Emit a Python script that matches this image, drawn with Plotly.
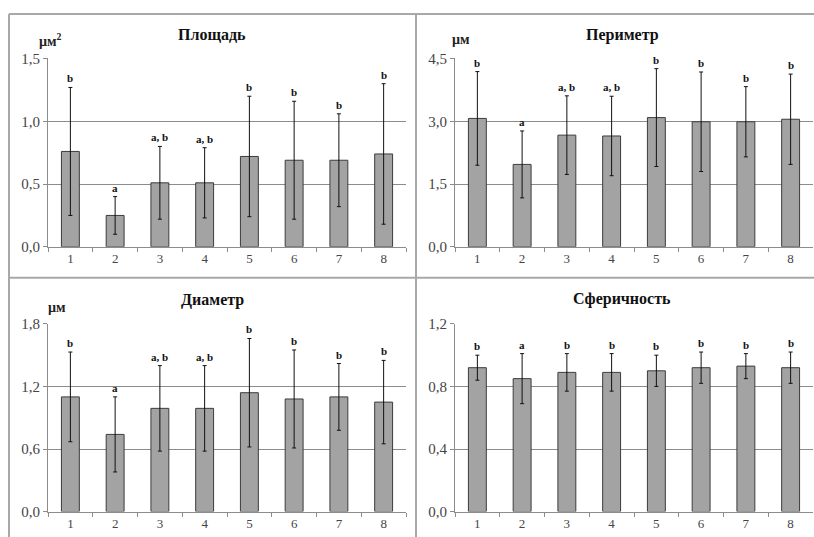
import plotly.graph_objects as go

categories = ["1", "2", "3", "4", "5", "6", "7", "8"]

area_mean = [0.76, 0.25, 0.51, 0.51, 0.72, 0.69, 0.69, 0.74]
area_sd = [0.51, 0.15, 0.29, 0.28, 0.48, 0.47, 0.37, 0.56]

perim_mean = [3.07, 1.97, 2.67, 2.65, 3.09, 2.99, 2.99, 3.05]
perim_sd = [1.12, 0.80, 0.94, 0.95, 1.17, 1.19, 0.84, 1.08]

diam_mean = [1.10, 0.74, 0.99, 0.99, 1.14, 1.08, 1.10, 1.05]
diam_sd = [0.43, 0.36, 0.41, 0.41, 0.52, 0.47, 0.32, 0.40]

spher_mean = [0.92, 0.85, 0.89, 0.89, 0.90, 0.92, 0.93, 0.92]
spher_sd = [0.08, 0.16, 0.12, 0.12, 0.10, 0.10, 0.08, 0.10]

letters_area = ["b", "a", "a, b", "a, b", "b", "b", "b", "b"]
letters_perim = ["b", "a", "a, b", "a, b", "b", "b", "b", "b"]
letters_diam = ["b", "a", "a, b", "a, b", "b", "b", "b", "b"]
letters_spher = ["b", "a", "b", "b", "b", "b", "b", "b"]

titles = ["Площадь", "Периметр", "Диаметр", "Сферичность"]
units = ["µм<sup>2</sup>", "µм", "µм", ""]
y_max = [1.5, 4.5, 1.8, 1.2]
y_dtick = [0.5, 1.5, 0.6, 0.4]

W, H = 814, 537

def px(x):
    return x / W

def py(y):
    # target screen pixel -> paper coordinate (compensates page-level vertical mapping)
    yd = (y - 8) / 0.971
    return 1 - yd / H

# panel geometry in target pixels (left, right, top, bottom)
panels = [
    (48, 406, 58.5, 247),
    (455, 813, 58.5, 247),
    (48, 406, 324, 512),
    (455, 813, 324, 512),
]
title_pos = [(212, 35), (622, 35), (212, 300), (622, 299)]
unit_pos = [(50, 40), (461, 40), (57, 308), (0, 0)]

means = [area_mean, perim_mean, diam_mean, spher_mean]
sds = [area_sd, perim_sd, diam_sd, spher_sd]
letters = [letters_area, letters_perim, letters_diam, letters_spher]

fig = go.Figure()
serif = "Times New Roman, Liberation Serif, DejaVu Serif, serif"
grid_col = "#8c8c8c"
annotations = []
shapes = []

for i in range(4):
    xa = "x" if i == 0 else f"x{i+1}"
    ya = "y" if i == 0 else f"y{i+1}"
    fig.add_trace(go.Bar(
        x=categories, y=means[i], xaxis=xa, yaxis=ya,
        marker=dict(color="#a3a3a3", line=dict(color="#3c3c3c", width=1)),
        error_y=dict(type="data", array=sds[i], visible=True,
                     color="#111111", thickness=1, width=2),
        showlegend=False, hoverinfo="skip",
    ))
    l, r, t, b = panels[i]
    xkey = "xaxis" if i == 0 else f"xaxis{i+1}"
    ykey = "yaxis" if i == 0 else f"yaxis{i+1}"
    fig.layout[xkey] = dict(
        domain=[px(l), px(r)], anchor=ya, type="category",
        showline=True, linecolor=grid_col, linewidth=1,
        ticks="outside", tickson="boundaries", ticklen=4, tickcolor=grid_col,
        showgrid=False, tickfont=dict(family=serif, size=13, color="#454545"),
        fixedrange=True,
    )
    fig.layout[ykey] = dict(
        domain=[py(b), py(t)], anchor=xa,
        range=[0, y_max[i] * 1.0008], dtick=y_dtick[i], tick0=0, tickformat=".1f",
        showline=True, linecolor=grid_col, linewidth=1,
        ticks="outside", ticklen=4, tickcolor=grid_col,
        showgrid=True, gridcolor=grid_col, gridwidth=1, zeroline=False,
        tickfont=dict(family=serif, size=15, color="#454545"),
        fixedrange=True,
    )
    tx, ty = title_pos[i]
    annotations.append(dict(
        text=f"<b>{titles[i]}</b>", xref="paper", yref="paper",
        x=px(tx), y=py(ty), showarrow=False,
        font=dict(family=serif, size=16, color="#111111"),
        xanchor="center", yanchor="middle",
    ))
    if units[i]:
        ux, uy = unit_pos[i]
        annotations.append(dict(
            text=f"<b>{units[i]}</b>", xref="paper", yref="paper",
            x=px(ux), y=py(uy), showarrow=False,
            font=dict(family=serif, size=14, color="#222222"),
            xanchor="center", yanchor="middle",
        ))
    for j, (m, s, lt) in enumerate(zip(means[i], sds[i], letters[i])):
        annotations.append(dict(
            text=f"<b>{lt}</b>", x=j, y=m + s, xref=xa, yref=ya,
            showarrow=False, yanchor="bottom", yshift=1,
            font=dict(family=serif, size=11, color="#111111"),
        ))

frame_col = "#a8a8a8"
shapes += [
    dict(type="line", xref="paper", yref="paper", x0=px(9), x1=1.01, y0=py(14), y1=py(14),
         line=dict(color=frame_col, width=2)),
    dict(type="line", xref="paper", yref="paper", x0=px(9), x1=px(9), y0=py(14), y1=-0.05,
         line=dict(color=frame_col, width=2)),
    dict(type="line", xref="paper", yref="paper", x0=px(416), x1=px(416), y0=py(14), y1=-0.05,
         line=dict(color=frame_col, width=2)),
    dict(type="line", xref="paper", yref="paper", x0=px(9), x1=1.01, y0=py(278), y1=py(278),
         line=dict(color=frame_col, width=2)),
]

fig.update_layout(
    width=W, height=H, margin=dict(l=0, r=0, t=0, b=0),
    paper_bgcolor="white", plot_bgcolor="white",
    bargap=0.6, separators=", ",
    annotations=annotations, shapes=shapes,
    font=dict(family=serif),
)

post = (
    "document.documentElement.style.margin='0';"
    "document.documentElement.style.overflow='hidden';"
    "document.body.style.margin='0';"
    "document.body.style.overflow='hidden';"
)

fig.write_html(
    "out.html",
    config={"displayModeBar": False, "staticPlot": True},
    post_script=post,
)
